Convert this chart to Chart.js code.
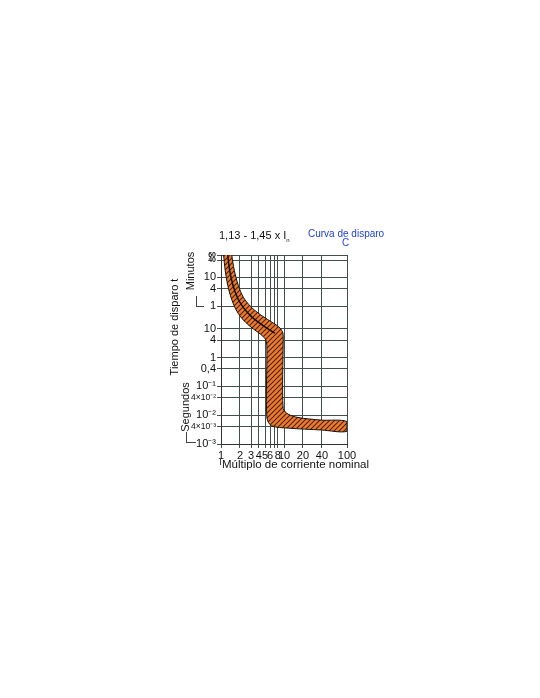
<!DOCTYPE html>
<html><head><meta charset="utf-8">
<script src="https://cdn.jsdelivr.net/npm/chart.js@4.4.0/dist/chart.umd.min.js"></script>
<style>
html,body{margin:0;padding:0;background:#fff;}
#wrap{position:relative;width:540px;height:698px;overflow:hidden;font-family:"Liberation Sans",Arial,sans-serif;}
#c{position:absolute;left:0;top:0;}
.t{position:absolute;white-space:nowrap;line-height:1;color:#111;}
.rot{transform:translate(-50%,-50%) rotate(-90deg);}
.ln{position:absolute;background:#444;}
</style></head><body>
<div id="wrap">
<canvas id="c" width="540" height="698"></canvas>
<div class="t" style="left:219px;top:230px;font-size:11px;">1,13 - 1,45 x I<span style="font-size:6px;position:relative;top:3px;">n</span></div>
<div class="t" style="left:308px;top:229px;font-size:10px;color:#1d3fd6;">Curva de disparo</div>
<div class="t" style="left:342px;top:238px;font-size:10px;color:#1d3fd6;">C</div>
<div class="t rot" style="left:174px;top:327px;font-size:11px;">Tiempo de disparo t</div>
<div class="t rot" style="left:190px;top:271px;font-size:11px;">Minutos</div>
<div class="t rot" style="left:185px;top:407px;font-size:11px;">Segundos</div>
<div class="ln" style="left:196px;top:296px;width:1px;height:11px;"></div>
<div class="ln" style="left:196px;top:306px;width:8px;height:1px;"></div>
<div class="ln" style="left:186px;top:432px;width:1px;height:11px;"></div>
<div class="ln" style="left:186px;top:442px;width:10px;height:1px;"></div>
<div class="ln" style="left:220px;top:458px;width:1px;height:7px;"></div>
<div class="t" style="left:222px;top:459px;font-size:11.5px;">Múltiplo de corriente nominal</div>
</div>
<script>
// ---- data ----
const xTickValues = [1, 2, 3, 4, 5, 6, 7, 8, 10, 20, 40, 100];
const xTickLabels = ['1', '2', '3', '4', '5', '6', '', '8', '10', '20', '40', '100'];
// y values in seconds (60 min ... 1 min, then 10 s ... 10^-3 s)
const yTickValues = [3600, 2400, 600, 240, 60, 10, 4, 1, 0.4, 0.1, 0.04, 0.01, 0.004, 0.001];
const yTickLabels = ['60', '40', '10', '4', '1', '10', '4', '1', '0,4', '10⁻¹', '4×10⁻²', '10⁻²', '4×10⁻³', '10⁻³'];

// band lower/left boundary (multiple of In, seconds)
const leftX = [1.10, 1.165, 1.28, 1.455, 1.715, 2.13, 2.86, 3.82, 4.68, 5.22, 5.35, 5.35, 6.35, 11.6, 39.3, 100];
const leftT = [3600, 1061, 321, 114, 47.5, 23.2, 12.3, 7.62, 5.32, 3.72, 1.82, 0.0081, 0.00428, 0.00356, 0.00306, 0.00276];
// band upper/right boundary
const rightX = [1.48, 1.625, 1.88, 2.26, 2.92, 3.9, 5.4, 7.2, 8.65, 9.62, 9.7, 9.7, 11.6, 16.7, 39.3, 100];
const rightT = [3600, 1061, 321, 123.6, 60.4, 34.6, 21.4, 14.4, 10.47, 7.03, 4.03, 0.0172, 0.0109, 0.0083, 0.00674, 0.00603];
// middle line of the thermal zone
const midX = [1.277, 1.373, 1.549, 1.825, 2.27, 2.99, 4.0, 5.35, 7.16];
const midT = [3600, 1061, 321, 118.8, 53.6, 27.2, 16.2, 10.47, 7.03];

// ---- build ----
const bandPts = leftX.map((x, i) => ({x: x, y: leftT[i]}))
  .concat(rightX.map((x, i) => ({x: x, y: rightT[i]})).reverse());
const midPts = midX.map((x, i) => ({x: x, y: midT[i]}));

function makeHatch(ctx) {
  const c = document.createElement('canvas');
  c.width = 5; c.height = 5;
  const g = c.getContext('2d');
  g.fillStyle = '#EE7B2C';
  g.fillRect(0, 0, 5, 5);
  g.strokeStyle = '#4a2008';
  g.lineWidth = 1.1;
  g.beginPath();
  g.moveTo(-1, 6); g.lineTo(6, -1);
  g.moveTo(-2, 2); g.lineTo(2, -2);
  g.moveTo(3, 7); g.lineTo(7, 3);
  g.stroke();
  return ctx.createPattern(c, 'repeat');
}

const hatchPlugin = {
  id: 'hatchFill',
  beforeDatasetsDraw(chart) {
    const meta = chart.getDatasetMeta(0);
    const line = meta.dataset;
    if (!line) return;
    const ctx = chart.ctx, a = chart.chartArea;
    line.updateControlPoints(a, 'x');
    ctx.save();
    ctx.beginPath();
    ctx.rect(a.left, a.top, a.right - a.left, a.bottom - a.top);
    ctx.clip();
    ctx.beginPath();
    line.path(ctx);
    ctx.closePath();
    ctx.fillStyle = makeHatch(ctx);
    ctx.fill();
    ctx.restore();
  }
};

const FAM = '"Liberation Sans", Arial, sans-serif';
const gridCol = '#42504d';
new Chart(document.getElementById('c'), {
  type: 'line',
  data: {
    datasets: [
      {data: bandPts, borderColor: '#111', borderWidth: 1, pointRadius: 0, fill: false, tension: 0.3},
      {data: midPts, borderColor: '#111', borderWidth: 1.5, pointRadius: 0, fill: false, tension: 0.3}
    ]
  },
  options: {
    responsive: false,
    animation: false,
    events: [],
    layout: {padding: {left: 171, right: 193, top: 255, bottom: 224}},
    plugins: {legend: {display: false}, tooltip: {enabled: false}},
    scales: {
      x: {
        type: 'logarithmic', min: 1, max: 100,
        afterFit: s => { s.height = 30; },
        afterBuildTicks: s => { s.ticks = xTickValues.map(v => ({value: v})); },
        grid: {color: gridCol, lineWidth: 1, tickLength: 4, tickColor: gridCol},
        border: {color: '#333', width: 1},
        ticks: {
          autoSkip: false, maxRotation: 0, padding: 1, color: '#111',
          font: {family: FAM, size: 11},
          callback: (v, i) => xTickLabels[i]
        }
      },
      y: {
        type: 'logarithmic', min: 0.001, max: 3600,
        afterFit: s => { s.width = 50; },
        afterBuildTicks: s => { s.ticks = yTickValues.map(v => ({value: v})); },
        grid: {color: gridCol, lineWidth: 1, tickLength: 4, tickColor: gridCol},
        border: {color: '#333', width: 1},
        ticks: {
          autoSkip: false, padding: 1, color: '#111',
          font: c => {
            const lab = yTickLabels[c.index] || '';
            if (c.index <= 1) return {family: FAM, size: 7, weight: 'bold'};
            if (lab.indexOf('×') >= 0) return {family: FAM, size: 8.5};
            return {family: FAM, size: 11};
          },
          callback: (v, i) => yTickLabels[i]
        }
      }
    }
  },
  plugins: [hatchPlugin]
});
</script>
</body></html>
